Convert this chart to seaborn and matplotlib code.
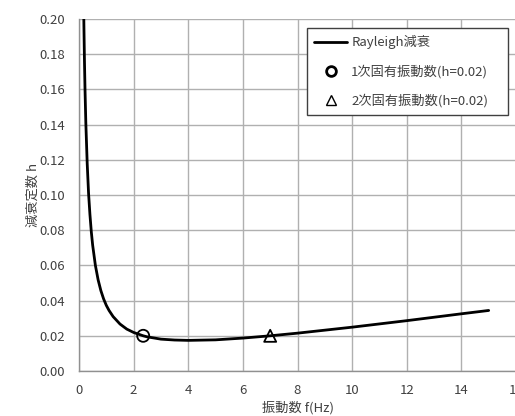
import pandas as pd
import seaborn as sns
from matplotlib import pyplot as plt
from matplotlib.lines import Line2D

# 振動数 f (Hz) と減衰定数 h
freq = [0.17, 0.18, 0.2, 0.22, 0.25, 0.3, 0.35, 0.4, 0.45, 0.5, 0.6, 0.7, 0.8, 0.9, 1.0,
        1.1, 1.25, 1.5, 1.75, 2.0, 2.35, 2.5, 3.0, 3.5, 4.0, 5.0, 6.0, 7.0, 8.0,
        10.0, 12.0, 14.0, 15.0]
damp = [0.207, 0.196, 0.176, 0.160, 0.141, 0.118, 0.101, 0.089, 0.0792, 0.0715, 0.060,
        0.0518, 0.0457, 0.041, 0.0373, 0.0344, 0.0309, 0.0267, 0.0238, 0.0219, 0.020,
        0.0194, 0.0181, 0.0176, 0.0174, 0.0177, 0.0187, 0.020, 0.0215, 0.0249, 0.0286,
        0.0325, 0.0344]

mode1_f, mode1_h = [2.35], [0.02]
mode2_f, mode2_h = [7.0], [0.02]

df = pd.DataFrame({'f': freq, 'h': damp})

sns.set_style('whitegrid')
plt.rcParams['font.family'] = ['Noto Sans CJK JP', 'DejaVu Sans']
txt = '#404040'
grid = '#b0b0b0'

fig = plt.figure(figsize=(5.15, 4.16), dpi=100)
ax = fig.add_axes([79 / 515, 1 - 371 / 416, (516 - 79) / 515, (371 - 19) / 416])

sns.lineplot(data=df, x='f', y='h', ax=ax, color='black', linewidth=2, sort=False)
sns.scatterplot(x=mode1_f, y=mode1_h, ax=ax, marker='o', s=75, facecolor='none',
                edgecolor='black', linewidth=1.3, zorder=5)
sns.scatterplot(x=mode2_f, y=mode2_h, ax=ax, marker='^', s=75, facecolor='none',
                edgecolor='black', linewidth=1.3, zorder=5)

ax.set_xlim(0, 16)
ax.set_ylim(0, 0.2)
ax.set_xticks(range(0, 17, 2))
ax.set_yticks([i * 0.02 for i in range(11)])
ax.set_yticklabels([f'{i * 0.02:.2f}' for i in range(11)])
ax.tick_params(labelsize=9.5, colors=txt, length=0)
ax.tick_params(axis='y', pad=10)
ax.tick_params(axis='x', pad=9)
ax.grid(True, color=grid, linewidth=1)
for s in ['top', 'right']:
    ax.spines[s].set_visible(False)
for s in ['left', 'bottom']:
    ax.spines[s].set_color('#909090')
    ax.spines[s].set_linewidth(1)

ax.set_xlabel('振動数 f(Hz)', fontsize=9.5, color=txt, labelpad=3)
ax.set_ylabel('減衰定数 h', fontsize=9.5, color=txt, labelpad=0)

handles = [
    Line2D([], [], color='black', linewidth=2),
    Line2D([], [], marker='o', color='black', linestyle='none', markerfacecolor='none',
           markersize=7, markeredgewidth=2),
    Line2D([], [], marker='^', color='black', linestyle='none', markerfacecolor='none',
           markersize=7, markeredgewidth=1),
]
labels = ['Rayleigh減衰', '1次固有振動数(h=0.02)', '2次固有振動数(h=0.02)']
x0 = (307 - 79) / 437
y1 = (371 - 28) / 352
w = (508 - 307) / 437
leg = ax.legend(handles, labels, loc='upper left', bbox_to_anchor=(x0, y1 - 0.3, w, 0.3),
                mode='expand', fontsize=9.5, frameon=True, fancybox=False,
                handlelength=2.5, labelspacing=1.15, borderpad=0.55, borderaxespad=0,
                handletextpad=0.3, labelcolor=txt)
leg.get_frame().set_edgecolor('#404040')
leg.get_frame().set_linewidth(1)
leg.get_frame().set_alpha(1)

fig.savefig('out.png', dpi=100)
